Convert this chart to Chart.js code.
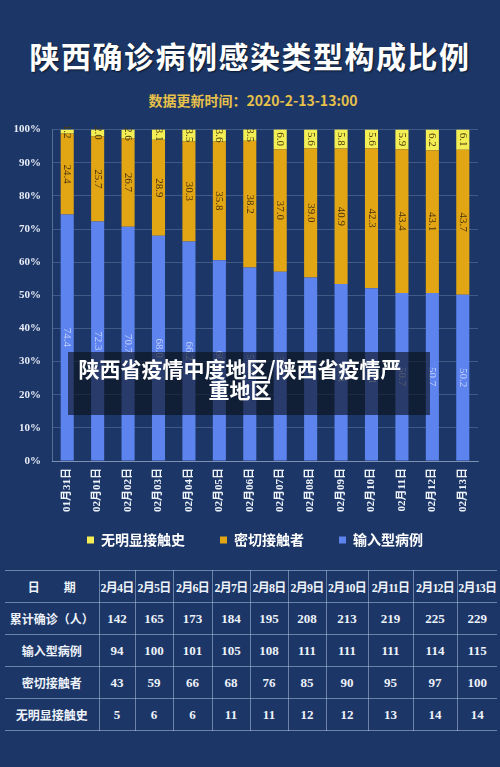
<!DOCTYPE html>
<html>
<head>
<meta charset="utf-8">
<script src="https://cdn.jsdelivr.net/npm/chart.js@4/dist/chart.umd.min.js"></script>
<style>
  html, body { margin: 0; padding: 0; }
  body {
    width: 500px; height: 767px; overflow: hidden; position: relative;
    background: #1c3767;
    font-family: "Noto Sans CJK SC", sans-serif;
  }
  #title {
    position: absolute; top: 33px; left: 0; width: 500px; text-align: center;
    color: #fff; font-size: 30px; font-weight: 700; letter-spacing: 1.5px;
    text-shadow: 1px 1px 2px rgba(0,0,0,0.6);
  }
  #subtitle {
    position: absolute; top: 90px; left: 0; width: 506px; text-align: center;
    color: #e6c04a; font-size: 14px; font-weight: 700;
  }
  #chartBox { position: absolute; top: 112px; left: 0; width: 500px; height: 445px; }
  #overlay {
    position: absolute; left: 68px; top: 352px; width: 362px; height: 63px;
    background: rgba(10, 14, 24, 0.62);
  }
  #overlay div {
    position: absolute; left: 0; top: 6px; width: 344px; text-align: center;
    color: #fff; font-size: 21px; font-weight: 700; line-height: 21px;
  }
  #tbl {
    position: absolute; top: 570px; left: 5px; width: 492px;
    border-collapse: collapse; table-layout: fixed;
    color: #eef2fa; font-weight: 700;
    font-family: "Liberation Serif", "Noto Sans CJK SC", serif;
  }
  #tbl td {
    border: 1px solid rgba(190, 205, 235, 0.5); text-align: center; padding: 0;
    height: 31px; font-size: 13px; white-space: nowrap; overflow: hidden;
  }
  #tbl tr td:first-child { border-left: none; font-size: 12px; font-family: "Noto Sans CJK SC", sans-serif; }
  #tbl tr td:last-child { border-right: none; }
  #tbl tr:first-of-type td { font-size: 12px; letter-spacing: -0.8px; }
  #tbl tr:first-of-type td:first-child { font-size: 12px; letter-spacing: 0; }
</style>
</head>
<body>
<div id="title">陕西确诊病例感染类型构成比例</div>
<div id="subtitle">数据更新时间：2020-2-13-13:00</div>
<div id="chartBox"><canvas id="chart"></canvas></div>
<div id="overlay"><div>陕西省疫情中度地区/陕西省疫情严<br>重地区</div></div>
<table id="tbl"></table>
<script>
// 图表数据（百分比）
const dates = ['01月31日', '02月01日', '02月02日', '02月03日', '02月04日', '02月05日', '02月06日',
    '02月07日', '02月08日', '02月09日', '02月10日', '02月11日', '02月12日', '02月13日'];
const importedPct = [74.4, 72.3, 70.7, 68.0, 66.2, 60.6, 58.4, 57.1, 55.4, 53.4, 52.1, 50.7, 50.7, 50.2];
const contactPct = [24.4, 25.7, 26.7, 28.9, 30.3, 35.8, 38.2, 37.0, 39.0, 40.9, 42.3, 43.4, 43.1, 43.7];
const unknownPct = [1.2, 2.0, 2.6, 3.1, 3.5, 3.6, 3.5, 6.0, 5.6, 5.8, 5.6, 5.9, 6.2, 6.1];
const yTicks = [0, 10, 20, 30, 40, 50, 60, 70, 80, 90, 100];

// 表格数据
const tableDates = ['2月4日', '2月5日', '2月6日', '2月7日', '2月8日', '2月9日', '2月10日', '2月11日', '2月12日', '2月13日'];
const totalCases = [142, 165, 173, 184, 195, 208, 213, 219, 225, 229];
const importedCases = [94, 100, 101, 105, 108, 111, 111, 111, 114, 115];
const contactCases = [43, 59, 66, 68, 76, 85, 90, 95, 97, 100];
const unknownCases = [5, 6, 6, 11, 11, 12, 12, 13, 14, 14];

const serif = '"Liberation Serif", "Noto Sans CJK SC", serif';

function buildTable() {
    const el = document.getElementById('tbl');
    const widths = [94, 36, 38, 39, 38, 38, 38, 42, 45, 44, 40];
    const cg = document.createElement('colgroup');
    widths.forEach(w => {
        const c = document.createElement('col');
        c.style.width = w + 'px';
        cg.appendChild(c);
    });
    el.appendChild(cg);
    const rows = [
        ['日　　期', tableDates],
        ['累计确诊（人）', totalCases],
        ['输入型病例', importedCases],
        ['密切接触者', contactCases],
        ['无明显接触史', unknownCases],
    ];
    rows.forEach(([head, vals]) => {
        const tr = document.createElement('tr');
        [head, ...vals].forEach(v => {
            const td = document.createElement('td');
            td.textContent = v;
            tr.appendChild(td);
        });
        el.appendChild(tr);
    });
}

// 柱内竖排数值
const barLabels = {
    id: 'barLabels',
    afterDatasetsDraw(chart) {
        const { ctx } = chart;
        chart.data.datasets.forEach((ds, i) => {
            const meta = chart.getDatasetMeta(i);
            meta.data.forEach((bar, j) => {
                const { x, y, base } = bar.getProps(['x', 'y', 'base'], true);
                ctx.save();
                ctx.translate(x, (y + base) / 2);
                ctx.rotate(Math.PI / 2);
                ctx.font = '11px ' + serif;
                ctx.fillStyle = ds.labelColor;
                ctx.textAlign = 'center';
                ctx.textBaseline = 'middle';
                ctx.fillText(ds.data[j].toFixed(1), 0, 0);
                ctx.restore();
            });
        });
    },
};

// scale box is kept narrow for layout, so let its labels draw outside it
function fixSize(scale, w, h) {
    if (w) scale.width = w;
    if (h) scale.height = h;
    scale._computeLabelArea = () => null;
}

function initChart() {
    const el = document.getElementById('chart');
    new Chart(el, {
        type: 'bar',
        data: {
            labels: dates,
            datasets: [
                { label: '输入型病例', data: importedPct, backgroundColor: '#5d83ef', labelColor: 'rgba(225,232,255,0.75)' },
                { label: '密切接触者', data: contactPct, backgroundColor: '#e2a514', labelColor: '#4a3208' },
                { label: '无明显接触史', data: unknownPct, backgroundColor: '#f4ee55', labelColor: '#4a3a08' },
            ],
        },
        options: {
            responsive: true,
            maintainAspectRatio: false,
            animation: false,
            barPercentage: 0.43,
            categoryPercentage: 1.0,
            layout: { padding: { top: 16, left: 32, right: 22, bottom: 0 } },
            plugins: {
                legend: {
                    position: 'bottom',
                    reverse: true,
                    labels: {
                        color: '#ffffff',
                        boxWidth: 7,
                        boxHeight: 7,
                        padding: 35,
                        font: { family: 'Noto Sans CJK SC', size: 14, weight: 'bold' },
                    },
                },
                tooltip: { enabled: false },
            },
            scales: {
                x: {
                    stacked: true,
                    grid: { display: false, drawTicks: false },
                    border: { display: true, color: 'rgba(200,212,235,0.45)' },
                    ticks: {
                        color: '#eef2fa',
                        minRotation: 90,
                        maxRotation: 90,
                        padding: 7,
                        font: { family: serif, size: 11, weight: 'bold' },
                    },
                    afterFit(scale) { fixSize(scale, 0, 37); },
                },
                y: {
                    stacked: true,
                    min: 0,
                    max: 100,
                    afterBuildTicks(scale) { scale.ticks = yTicks.map(v => ({ value: v })); },
                    grid: { color: 'rgba(200,212,235,0.22)', drawTicks: false },
                    border: { display: true, color: 'rgba(200,212,235,0.35)' },
                    ticks: {
                        color: '#e6ebf5',
                        padding: 11,
                        font: { family: serif, size: 11, weight: 'bold' },
                        callback: v => v + '%',
                    },
                    afterFit(scale) { fixSize(scale, 20, 0); },
                },
            },
        },
        plugins: [barLabels],
    });
}

buildTable();
initChart();
</script>
</body>
</html>
